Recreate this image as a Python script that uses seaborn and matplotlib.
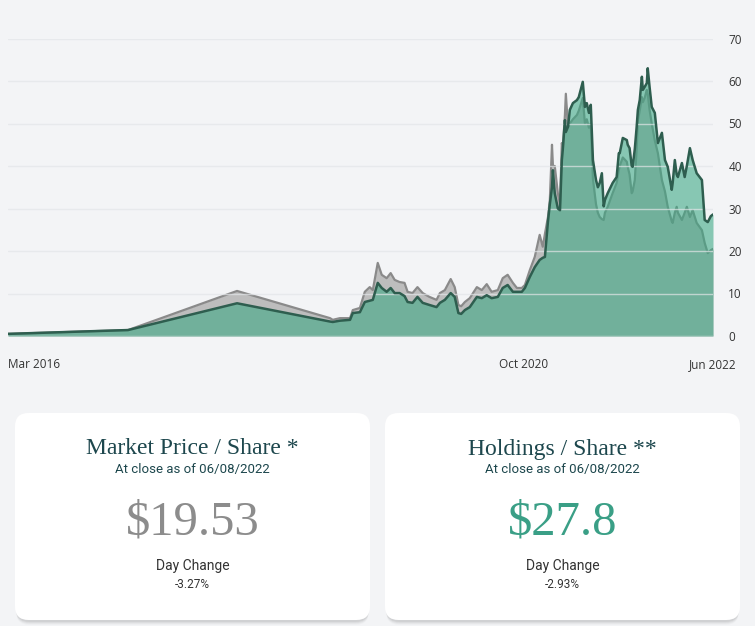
import matplotlib
matplotlib.use("Agg")
import matplotlib.pyplot as plt
from matplotlib.patches import FancyBboxPatch
import numpy as np
import pandas as pd
import seaborn as sns

# ---------------- data ----------------
dates = [
    "2016-03-01", "2017-03-26", "2018-03-15", "2019-01-11", "2019-01-20",
    "2019-02-12", "2019-03-17", "2019-03-26", "2019-04-18", "2019-05-04",
    "2019-05-20", "2019-05-30", "2019-06-15", "2019-06-28", "2019-07-14",
    "2019-07-27", "2019-08-09", "2019-08-25", "2019-09-10", "2019-09-20",
    "2019-10-06", "2019-10-22", "2019-11-08", "2019-11-30", "2019-12-23",
    "2020-01-03", "2020-01-19", "2020-02-07", "2020-02-20", "2020-03-03",
    "2020-03-12", "2020-03-24", "2020-04-09", "2020-05-02", "2020-05-18",
    "2020-06-03", "2020-06-19", "2020-07-09", "2020-07-25", "2020-08-10",
    "2020-08-27", "2020-09-09", "2020-09-25", "2020-10-05", "2020-10-21",
    "2020-11-06", "2020-11-22", "2020-12-02", "2020-12-09", "2020-12-19",
    "2020-12-25", "2021-01-01", "2021-01-04", "2021-01-10", "2021-01-20",
    "2021-01-27", "2021-02-02", "2021-02-05", "2021-02-12", "2021-02-15",
    "2021-02-22", "2021-02-28", "2021-03-10", "2021-03-23", "2021-03-29",
    "2021-04-11", "2021-04-18", "2021-04-24", "2021-05-01", "2021-05-07",
    "2021-05-14", "2021-05-24", "2021-05-30", "2021-06-05", "2021-06-12",
    "2021-06-18", "2021-06-22", "2021-07-01", "2021-07-17", "2021-07-30",
    "2021-08-06", "2021-08-09", "2021-08-19", "2021-09-01", "2021-09-04",
    "2021-09-10", "2021-09-17", "2021-09-20", "2021-09-27", "2021-10-03",
    "2021-10-07", "2021-10-13", "2021-10-20", "2021-10-23", "2021-10-29",
    "2021-11-05", "2021-11-08", "2021-11-14", "2021-11-21", "2021-12-01",
    "2021-12-11", "2021-12-24", "2022-01-03", "2022-01-12", "2022-01-25",
    "2022-01-28", "2022-02-04", "2022-02-10", "2022-02-14", "2022-02-27",
    "2022-03-08", "2022-03-15", "2022-03-25", "2022-04-03", "2022-04-16",
    "2022-05-03", "2022-05-12", "2022-05-22", "2022-06-01", "2022-06-08",
]
market_price = [
    0.5, 1.4, 10.6, 4.2, 3.8,
    4.2, 4.2, 6.1, 6.6, 10.4,
    11.5, 10.8, 17.2, 14.4, 13.6,
    14.8, 13.2, 12.7, 12.5, 10.4,
    10.1, 11.5, 10.1, 9.2, 8.5,
    10.1, 10.8, 13.4, 11.5, 7.3,
    7.0, 8.0, 8.9, 11.5, 10.8,
    12.2, 10.4, 10.8, 13.6, 14.4,
    12.5, 11.3, 11.3, 12.0, 15.5,
    18.6, 23.8, 21.0, 24.0, 28.0,
    32.0, 45.0, 40.0, 40.0, 33.6,
    31.0, 45.4, 44.0, 52.0, 57.0,
    49.2, 50.0, 51.0, 52.0, 53.0,
    56.0, 50.0, 51.0, 49.0, 50.0,
    37.0, 31.0, 29.0, 28.0, 27.5,
    27.3, 29.0, 30.4, 33.6, 36.0,
    39.0, 40.0, 42.0, 41.0, 39.8,
    38.0, 33.6, 34.0, 36.7, 44.0,
    50.8, 53.0, 56.2, 55.0, 56.0,
    57.9, 57.0, 53.2, 50.0, 46.0,
    43.0, 36.7, 34.0, 30.4, 27.0,
    26.6, 29.0, 30.4, 29.0, 27.3,
    29.0, 30.4, 28.0, 29.6, 26.6,
    24.9, 21.9, 19.5, 20.2, 20.5,
]
holdings = [
    0.5, 1.4, 7.7, 3.4, 3.3,
    3.6, 3.8, 5.4, 5.6, 8.0,
    8.3, 8.5, 12.5, 11.3, 10.4,
    11.3, 10.1, 10.1, 9.4, 8.0,
    7.8, 9.2, 7.8, 7.3, 6.8,
    7.8, 8.5, 10.1, 9.2, 5.4,
    5.2, 6.1, 6.8, 9.2, 8.9,
    9.6, 8.9, 9.2, 11.3, 12.0,
    10.4, 10.4, 10.4, 11.3, 13.9,
    16.2, 17.9, 18.4, 18.6, 27.0,
    31.0, 35.0, 39.0, 33.6, 30.0,
    29.6, 41.4, 43.8, 50.8, 48.0,
    49.2, 53.2, 54.8, 55.5, 56.2,
    59.8, 53.9, 54.8, 52.5, 54.4,
    41.4, 36.7, 35.0, 36.0, 38.3,
    30.5, 32.0, 33.6, 36.0, 37.4,
    43.0, 43.0, 46.6, 46.1, 45.0,
    44.2, 40.0, 39.8, 44.0, 49.2,
    53.2, 55.5, 61.0, 57.9, 58.6,
    59.5, 63.0, 58.6, 53.9, 52.5,
    45.4, 47.8, 41.4, 39.8, 34.4,
    36.0, 41.4, 38.0, 37.4, 40.7,
    37.4, 40.0, 44.2, 41.4, 38.3,
    36.7, 27.3, 26.8, 28.2, 28.6,
]
y_ticks = [0, 10, 20, 30, 40, 50, 60, 70]
x_tick_dates = ["2016-03-01", "2020-10-01", "2022-06-08"]
x_tick_labels = ["Mar 2016", "Oct 2020", "Jun 2022"]

cards = [
    {"title": "Market Price / Share *", "value": "$19.53", "change": "-3.27%", "color": "#8c8c8c"},
    {"title": "Holdings / Share **", "value": "$27.8", "change": "-2.93%", "color": "#3a9f86"},
]
as_of = "At close as of 06/08/2022"

# ---------------- style ----------------
BG = "#f3f4f6"
sns.set_theme(style="white")
plt.rcParams["font.family"] = ["Open Sans", "DejaVu Sans"]

df = pd.DataFrame({"date": pd.to_datetime(dates),
                   "market_price": market_price,
                   "holdings": holdings})

W, H = 755, 626
fig = plt.figure(figsize=(W / 100, H / 100), dpi=100, facecolor=BG)

# chart axes: x 8..713 px, y0 at 336 px, y70 at 38.5 px
ax = fig.add_axes([8 / W, (H - 336) / H, 705 / W, (336 - 38.5) / H])
ax.set_facecolor("none")

# market price (gray) first
ax.fill_between(df["date"], 0, df["market_price"], color="#bdbdbd", lw=0, zorder=1)
sns.lineplot(data=df, x="date", y="market_price", ax=ax, color="#8a8a8a",
             lw=1.6, zorder=1.2)
# holdings (green, translucent) on top
ax.fill_between(df["date"], 0, df["holdings"], color="#3aa883", alpha=0.58,
                lw=0, zorder=1.5)
sns.lineplot(data=df, x="date", y="holdings", ax=ax, color="#2e5e4f",
             lw=1.8, zorder=3)

ax.set_xlim(pd.Timestamp(dates[0]), pd.Timestamp(dates[-1]))
ax.set_ylim(0, 70)
ax.set_yticks(y_ticks)
ax.yaxis.tick_right()
ax.set_xticks(pd.to_datetime(x_tick_dates))
ax.set_xticklabels(x_tick_labels)
ax.tick_params(axis="both", length=0, labelsize=8.5, colors="#333333")
ax.tick_params(axis="y", pad=11)
ax.tick_params(axis="x", pad=16)
ax.get_xticklabels()[0].set_ha("left")
ax.set_xlabel("")
ax.set_ylabel("")
for s in ax.spines.values():
    s.set_visible(False)
ax.grid(axis="y", color="#e2e5e8", lw=1.0, alpha=0.7, zorder=2)
ax.grid(axis="x", visible=False)
ax.set_axisbelow(False)
for gl in ax.get_ygridlines():
    gl.set_zorder(2)

# ---------------- cards ----------------
def fx(px):
    return px / W

def fy(py):
    return (H - py) / H

card_boxes = [(15, 370), (385, 740)]
top, bottom = 413, 620
for (x0, x1), card in zip(card_boxes, cards):
    # soft shadow
    for k, a in zip(range(4), [0.05, 0.04, 0.03, 0.02]):
        sh = FancyBboxPatch((fx(x0 + 1), fy(bottom + 2 + k)),
                            fx(x1 - x0 - 2), fy(top) - fy(bottom),
                            boxstyle="round,pad=0,rounding_size=0.018",
                            transform=fig.transFigure, facecolor="#000000",
                            edgecolor="none", alpha=a, zorder=0.5,
                            mutation_aspect=W / H)
        fig.patches.append(sh)
    box = FancyBboxPatch((fx(x0), fy(bottom)), fx(x1 - x0), fy(top) - fy(bottom),
                         boxstyle="round,pad=0,rounding_size=0.018",
                         transform=fig.transFigure, facecolor="white",
                         edgecolor="none", zorder=1, mutation_aspect=W / H)
    fig.patches.append(box)
    cx = fx((x0 + x1) / 2)
    fig.text(cx, fy(449), card["title"], ha="center", va="center",
             fontsize=17, color="#1d474d", family=["Liberation Serif", "DejaVu Serif"])
    fig.text(cx, fy(470), as_of, ha="center", va="center",
             fontsize=9.5, color="#1d474d", family=["Roboto", "DejaVu Sans"])
    fig.text(cx, fy(523), card["value"], ha="center", va="center",
             fontsize=35, color=card["color"], family=["Liberation Serif", "DejaVu Serif"])
    fig.text(cx, fy(566), "Day Change", ha="center", va="center",
             fontsize=10, color="#333333", family=["Roboto", "DejaVu Sans"])
    fig.text(cx, fy(585), card["change"], ha="center", va="center",
             fontsize=8.5, color="#333333", family=["Roboto", "DejaVu Sans"])

fig.savefig("out.png", dpi=100, facecolor=BG)
